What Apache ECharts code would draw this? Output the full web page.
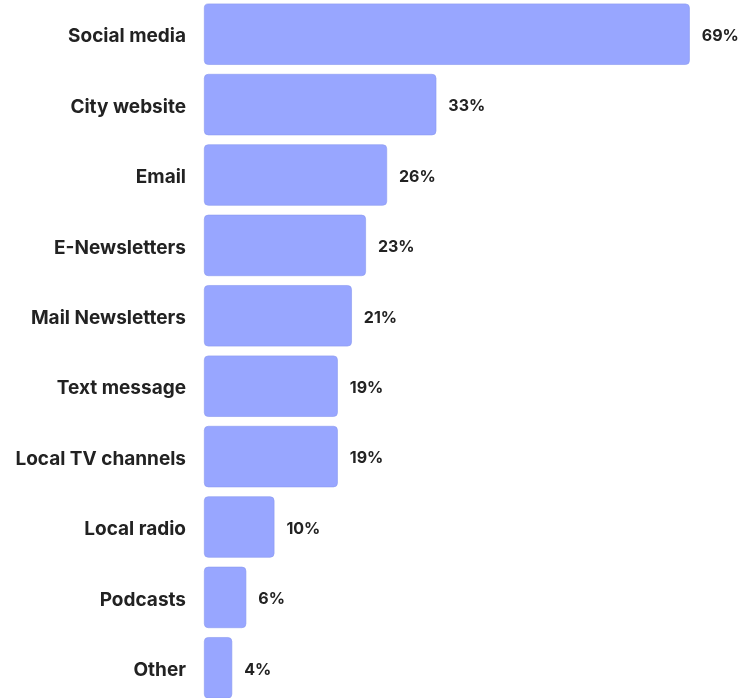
<!DOCTYPE html>
<html><head><meta charset="utf-8">
<script src="https://cdn.jsdelivr.net/npm/echarts@6/dist/echarts.min.js"></script>
<style>html,body{margin:0;padding:0;background:#fff}#c{width:752px;height:698px}</style>
</head><body><div id="c"></div>
<script>
const categories = ["Social media","City website","Email","E-Newsletters","Mail Newsletters","Text message","Local TV channels","Local radio","Podcasts","Other"];
const values = [69,33,26,23,21,19,19,10,6,4];
const chart = echarts.init(document.getElementById('c'));
chart.setOption({
  animation:false,
  grid:{left:204,width:528,top:-1,height:704,containLabel:false,outerBoundsMode:'none'},
  xAxis:{type:'value',min:0,max:75,show:false},
  yAxis:{type:'category',data:categories,inverse:true,
    axisLine:{show:false},axisTick:{show:false},
    axisLabel:{margin:18,formatter:'{a|{value}}',
      rich:{a:{padding:[5,0,0,0],fontFamily:'Inter',fontWeight:'bold',fontSize:19,color:'#222'}},
      fontFamily:'Inter',fontWeight:'bold',fontSize:19,color:'#222'}},
  series:[{type:'bar',data:values,barCategoryGap:'13%',
    itemStyle:{color:'#98A6FF',borderColor:'#8A98F0',borderWidth:0.6,borderRadius:4},
    label:{show:true,position:'right',distance:12,offset:[0,2],formatter:'{c}%',fontFamily:'Inter',fontWeight:'bold',fontSize:16,color:'#222'}}]
});
</script></body></html>
